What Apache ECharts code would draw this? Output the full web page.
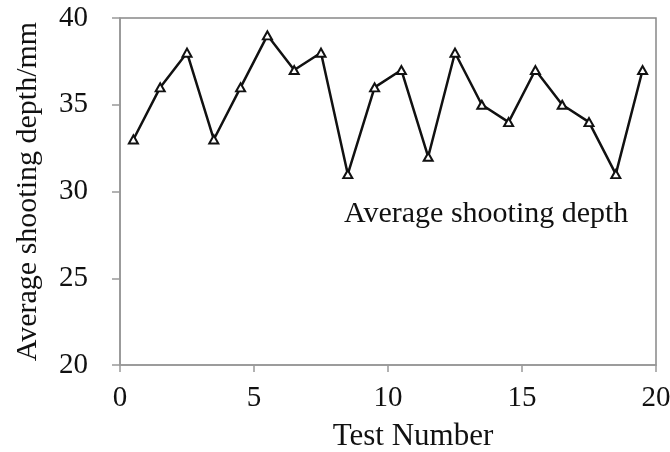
<!DOCTYPE html>
<html><head><meta charset="utf-8">
<script src="https://cdn.jsdelivr.net/npm/echarts@6/dist/echarts.min.js"></script>
<style>html,body{margin:0;padding:0;background:#fff}#c{width:670px;height:452px}</style>
</head><body><div id="c"></div>
<script>
const testNumbers = [0.5,1.5,2.5,3.5,4.5,5.5,6.5,7.5,8.5,9.5,10.5,11.5,12.5,13.5,14.5,15.5,16.5,17.5,18.5,19.5];
const depthValues = [33,36,38,33,36,39,37,38,31,36,37,32,38,35,34,37,35,34,31,37];
const seriesName = 'Average shooting depth';
const xTicks = [0,5,10,15,20];
const yTicks = [20,25,30,35,40];
const font = '"Liberation Serif","Times New Roman",serif';
const chart = echarts.init(document.getElementById('c'));
chart.setOption({
  animation:false,
  backgroundColor:'#fff',
  grid:{left:120,right:14,top:18,bottom:87,show:true,borderColor:'#888',borderWidth:1.5,containLabel:false,outerBoundsMode:'none'},
  legend:{left:334,top:194,icon:'none',itemWidth:0,itemGap:0,
    textStyle:{fontFamily:font,fontSize:30,color:'#111'},data:[{name:seriesName,icon:'none'}]},
  xAxis:{type:'value',min:xTicks[0],max:xTicks[xTicks.length-1],interval:5,
    name:'Test Number',nameLocation:'middle',nameGap:56,
    nameTextStyle:{fontFamily:font,fontSize:31,color:'#111',padding:[0,0,0,50]},
    axisLine:{lineStyle:{color:'#999',width:1.5}},
    axisTick:{show:true,length:7,lineStyle:{color:'#999',width:1.5}},
    axisLabel:{fontFamily:font,fontSize:29,color:'#111',margin:19},
    splitLine:{show:false}},
  yAxis:{type:'value',min:yTicks[0],max:yTicks[yTicks.length-1],interval:5,
    name:'Average shooting depth/mm',nameLocation:'middle',nameGap:77,
    nameTextStyle:{fontFamily:font,fontSize:30,color:'#111'},
    axisLine:{show:true,lineStyle:{color:'#999',width:1.5}},
    axisTick:{show:true,length:8,lineStyle:{color:'#999',width:1.5}},
    axisLabel:{fontFamily:font,fontSize:29,color:'#111',margin:32},
    splitLine:{show:false}},
  series:[{name:seriesName,type:'line',
    data:testNumbers.map((x,i)=>[x,depthValues[i]]),
    symbol:'emptyTriangle',symbolSize:[9,8],
    lineStyle:{color:'#111',width:2.5},
    itemStyle:{color:'#111',borderColor:'#111',borderWidth:1}}]
});
</script></body></html>
